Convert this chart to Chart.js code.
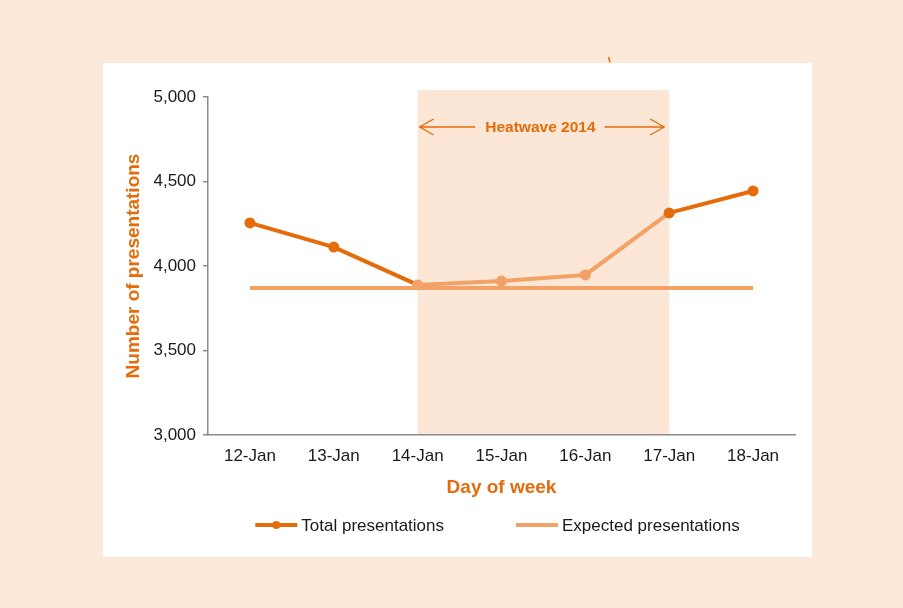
<!DOCTYPE html>
<html>
<head>
<meta charset="utf-8">
<script src="https://cdn.jsdelivr.net/npm/chart.js@4.4.1/dist/chart.umd.min.js"></script>
<style>
  html, body { margin: 0; padding: 0; background: #fde9d9; }
  #wrap { width: 903px; height: 608px; }
</style>
</head>
<body>
<div id="wrap"><canvas id="heatwaveChart" width="903" height="608"></canvas></div>
<script>
// Daily presentations around the January 2014 heatwave
const days = ['12-Jan', '13-Jan', '14-Jan', '15-Jan', '16-Jan', '17-Jan', '18-Jan'];
const totalPresentations = [4255, 4112, 3888, 3911, 3947, 4314, 4444];
const expectedPresentations = [3870, 3870, 3870, 3870, 3870, 3870, 3870];
const yTicks = [3000, 3500, 4000, 4500, 5000];
const heatwaveStart = '14-Jan';
const heatwaveEnd = '17-Jan';
const heatwaveLabel = 'Heatwave 2014';

const DARK = '#e46c0a';
const LIGHT = '#f2a266';
const SHADE = '#fce6d6';
const FONT = "'Liberation Sans', Arial, sans-serif";

Chart.defaults.font.family = FONT;
Chart.defaults.color = '#1a1a1a';

const hwFrom = days.indexOf(heatwaveStart);
const hwTo = days.indexOf(heatwaveEnd);
const inHeatwave = i => i >= hwFrom && i < hwTo;

// white panel, shaded heatwave band, annotation and legend
const decorPlugin = {
    id: 'decor',
    beforeDraw(chart) {
        const { ctx, chartArea, scales: { x, y } } = chart;
        ctx.save();
        ctx.fillStyle = '#ffffff';
        ctx.fillRect(103, 63, 709, 494);
        const x0 = x.getPixelForValue(hwFrom);
        const x1 = x.getPixelForValue(hwTo);
        const top = y.getPixelForValue(y.max) - 7;
        ctx.fillStyle = SHADE;
        ctx.fillRect(x0, top, x1 - x0, chartArea.bottom - top);
        ctx.restore();
    },
    afterDraw(chart) {
        const { ctx, chartArea, scales: { x, y } } = chart;
        ctx.save();

        // heatwave annotation
        const x0 = x.getPixelForValue(hwFrom);
        const x1 = x.getPixelForValue(hwTo);
        const ay = y.getPixelForValue(y.max) + 30;
        const cx = (x0 + x1) / 2 - 3;
        ctx.font = "bold 15.5px " + FONT;
        ctx.fillStyle = DARK;
        ctx.textAlign = 'center';
        ctx.textBaseline = 'middle';
        ctx.fillText(heatwaveLabel, cx, ay + 1);
        const tw = ctx.measureText(heatwaveLabel).width;
        ctx.strokeStyle = DARK;
        ctx.lineWidth = 1.3;
        const lTip = x0 + 2, lEnd = cx - tw / 2 - 10;
        const rTip = x1 - 5, rEnd = cx + tw / 2 + 9;
        ctx.beginPath();
        ctx.moveTo(lEnd, ay); ctx.lineTo(lTip, ay);
        ctx.moveTo(lTip + 14, ay - 8); ctx.lineTo(lTip, ay); ctx.lineTo(lTip + 14, ay + 8);
        ctx.moveTo(rEnd, ay); ctx.lineTo(rTip, ay);
        ctx.moveTo(rTip - 14, ay - 8); ctx.lineTo(rTip, ay); ctx.lineTo(rTip - 14, ay + 8);
        ctx.stroke();

        // stray tick above the panel
        ctx.lineWidth = 1.5;
        ctx.beginPath();
        ctx.moveTo(608.5, 57); ctx.lineTo(610, 62.5);
        ctx.stroke();

        // legend
        ctx.font = "17px " + FONT;
        ctx.textAlign = 'left';
        ctx.fillStyle = '#1a1a1a';
        const items = chart.data.datasets.map(ds => ({ label: ds.label, color: ds.borderColor, dot: ds.pointRadius > 0 }));
        const lineLen = 42, gap = 4, itemGap = 72;
        let total = 0;
        items.forEach((it, i) => {
            it.w = lineLen + gap + ctx.measureText(it.label).width;
            total += it.w + (i ? itemGap : 0);
        });
        let lx = (chartArea.left + chartArea.right) / 2 - 4 - total / 2;
        const ly = 525;
        items.forEach(it => {
            ctx.strokeStyle = it.color;
            ctx.lineWidth = 4;
            ctx.beginPath();
            ctx.moveTo(lx, ly); ctx.lineTo(lx + lineLen, ly);
            ctx.stroke();
            if (it.dot) {
                ctx.fillStyle = it.color;
                ctx.beginPath();
                ctx.arc(lx + lineLen / 2, ly, 4, 0, Math.PI * 2);
                ctx.fill();
            }
            ctx.fillStyle = '#1a1a1a';
            ctx.fillText(it.label, lx + lineLen + gap, ly + 1);
            lx += it.w + itemGap;
        });
        ctx.restore();
    }
};

const ctx = document.getElementById('heatwaveChart').getContext('2d');
new Chart(ctx, {
    type: 'line',
    data: {
        labels: days,
        datasets: [
            {
                label: 'Total presentations',
                data: totalPresentations,
                borderColor: DARK,
                borderWidth: 4,
                pointRadius: 5.5,
                pointHoverRadius: 5.5,
                pointBorderWidth: 0,
                pointBackgroundColor: days.map((d, i) => inHeatwave(i) ? LIGHT : DARK),
                segment: {
                    borderColor: c => inHeatwave(c.p0DataIndex) ? LIGHT : DARK
                },
                tension: 0
            },
            {
                label: 'Expected presentations',
                data: expectedPresentations,
                borderColor: LIGHT,
                borderWidth: 4,
                pointRadius: 0,
                pointHoverRadius: 0,
                tension: 0
            }
        ]
    },
    options: {
        responsive: false,
        animation: false,
        devicePixelRatio: 1,
        layout: { padding: { left: 103, top: 97, right: 108, bottom: 108 } },
        plugins: {
            legend: { display: false },
            tooltip: { enabled: false }
        },
        scales: {
            x: {
                offset: true,
                grid: { display: false },
                border: { display: true, color: '#8c8c8c', width: 1.5 },
                ticks: { font: { size: 17 }, padding: 3, maxRotation: 0, color: '#1a1a1a' },
                title: {
                    display: true,
                    text: 'Day of week',
                    color: DARK,
                    font: { size: 19, weight: 'bold' },
                    padding: { top: 0, bottom: 1 }
                },
                afterFit: s => { s.height = 65; }
            },
            y: {
                min: yTicks[0],
                max: yTicks[yTicks.length - 1],
                afterBuildTicks: s => { s.ticks = yTicks.map(v => ({ value: v })); },
                grid: { drawOnChartArea: false, drawTicks: true, tickLength: 5, color: '#8c8c8c', lineWidth: 1.5 },
                border: { display: true, color: '#8c8c8c', width: 1.5 },
                ticks: {
                    font: { size: 17 },
                    padding: 7,
                    color: '#1a1a1a',
                    callback: v => v.toLocaleString('en-US')
                },
                title: {
                    display: true,
                    text: 'Number of presentations',
                    color: DARK,
                    font: { size: 19, weight: 'bold' },
                    padding: { top: 19, bottom: 0 }
                },
                afterFit: s => { s.width = 105; }
            }
        }
    },
    plugins: [decorPlugin]
});
</script>
</body>
</html>
